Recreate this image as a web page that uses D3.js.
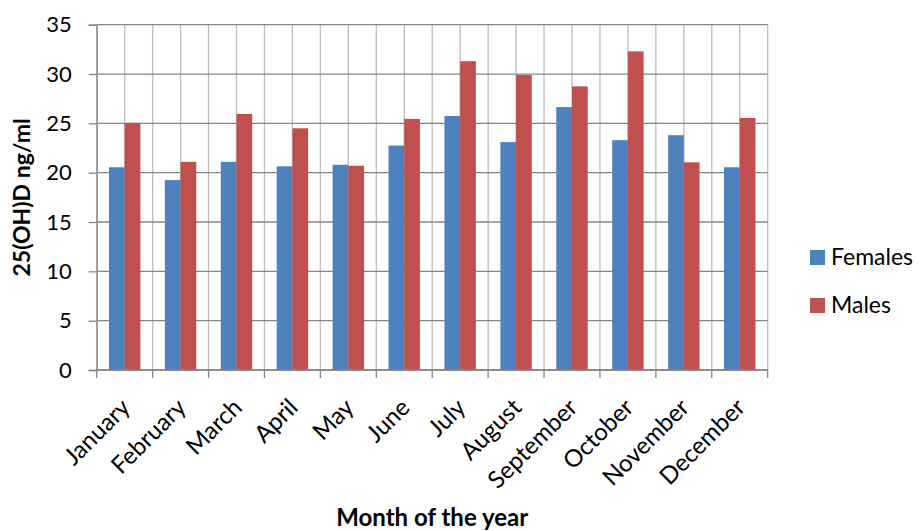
<!DOCTYPE html>
<html lang="en">
<head>
<meta charset="UTF-8">
<script src="https://d3js.org/d3.v7.min.js"></script>
<title>25(OH)D by month</title>
<style>
  body { margin: 0; background: #fff; }
  text { font-family: Lato, "Open Sans", sans-serif; fill: #000; }
</style>
</head>
<body>
<script>
// chart values
var months = ["January", "February", "March", "April", "May", "June",
              "July", "August", "September", "October", "November", "December"];
var females = [20.55, 19.25, 21.1, 20.65, 20.8, 22.75, 25.75, 23.1, 26.65, 23.3, 23.8, 20.55];
var males   = [25.05, 21.1, 25.95, 24.5, 20.7, 25.45, 31.3, 29.9, 28.75, 32.3, 21.05, 25.55];
var yTicks  = [0, 5, 10, 15, 20, 25, 30, 35];
var seriesNames  = ["Females", "Males"];
var seriesColors = ["#4F81BD", "#C0504D"];

var width = 921, height = 531;
var plotL = 96.7, plotR = 767.7, plotT = 24.7, plotB = 370;

var svg = d3.select("body").append("svg")
    .attr("width", width).attr("height", height);

var x = d3.scaleBand().domain(months).range([plotL, plotR]).padding(0);
var y = d3.scaleLinear().domain([0, 35]).range([plotB, plotT]);

var bw = x.bandwidth();
var barW = bw * 0.281;

// vertical gridlines: at category edges and centres
var vlines = [];
months.forEach(function(m) {
  vlines.push(x(m));
  vlines.push(x(m) + bw / 2);
});
vlines.push(plotR);

svg.append("g").selectAll("line").data(vlines).enter().append("line")
  .attr("x1", function(d) { return d; }).attr("x2", function(d) { return d; })
  .attr("y1", plotT).attr("y2", plotB)
  .attr("stroke", "#bcbcbc").attr("stroke-width", 1.3);

// horizontal gridlines
svg.append("g").selectAll("line").data(yTicks).enter().append("line")
  .attr("x1", plotL).attr("x2", plotR)
  .attr("y1", function(d) { return y(d); }).attr("y2", function(d) { return y(d); })
  .attr("stroke", "#868686").attr("stroke-width", 1.3);

// bars
var sets = [females, males];
sets.forEach(function(vals, s) {
  svg.append("g").selectAll("rect").data(vals).enter().append("rect")
    .attr("x", function(d, i) { return x(months[i]) + bw / 2 - barW + s * barW; })
    .attr("y", function(d) { return y(d); })
    .attr("width", barW)
    .attr("height", function(d) { return y(0) - y(d); })
    .attr("fill", seriesColors[s]);
});

// y axis
var yAxis = svg.append("g").attr("transform", "translate(" + plotL + ",0)")
  .call(d3.axisLeft(y).tickValues(yTicks).tickSize(8).tickPadding(17));
yAxis.select(".domain").attr("stroke", "#868686").attr("stroke-width", 1.3);
yAxis.selectAll(".tick line").attr("stroke", "#868686").attr("stroke-width", 1.3);
yAxis.selectAll("text").style("font-size", "22px").attr("fill", "#000")
  .style("font-family", "Lato, sans-serif");

// x axis
var xAxis = svg.append("g").attr("transform", "translate(0," + plotB + ")");
xAxis.append("line").attr("x1", plotL).attr("x2", plotR)
  .attr("stroke", "#868686").attr("stroke-width", 1.3);
xAxis.selectAll(".tk").data(vlines.filter(function(d, i) { return i % 2 === 0 || d === plotR; }))
  .enter().append("line")
  .attr("x1", function(d) { return d; }).attr("x2", function(d) { return d; })
  .attr("y1", 0).attr("y2", 8)
  .attr("stroke", "#868686").attr("stroke-width", 1.3);
xAxis.selectAll(".lbl").data(months).enter().append("text")
  .attr("transform", function(d) {
    return "translate(" + (x(d) + bw / 2 + 1) + ",33) rotate(-45)";
  })
  .attr("text-anchor", "end")
  .attr("dy", "0.35em")
  .style("font-size", "24px")
  .text(function(d) { return d; });

// axis titles
svg.append("text")
  .attr("transform", "translate(30," + ((plotT + plotB) / 2) + ") rotate(-90)")
  .attr("text-anchor", "middle")
  .style("font-size", "23px").style("font-weight", "bold")
  .text("25(OH)D ng/ml");

svg.append("text")
  .attr("x", (plotL + plotR) / 2).attr("y", 526)
  .attr("text-anchor", "middle")
  .style("font-size", "24px").style("font-weight", "bold")
  .text("Month of the year");

// legend
var lg = svg.append("g");
seriesNames.forEach(function(n, i) {
  lg.append("rect").attr("x", 810).attr("y", 250 + i * 48)
    .attr("width", 15).attr("height", 15).attr("fill", seriesColors[i]);
  lg.append("text").attr("x", 831).attr("y", 265 + i * 48)
    .style("font-size", "23px").text(n);
});
</script>
</body>
</html>
